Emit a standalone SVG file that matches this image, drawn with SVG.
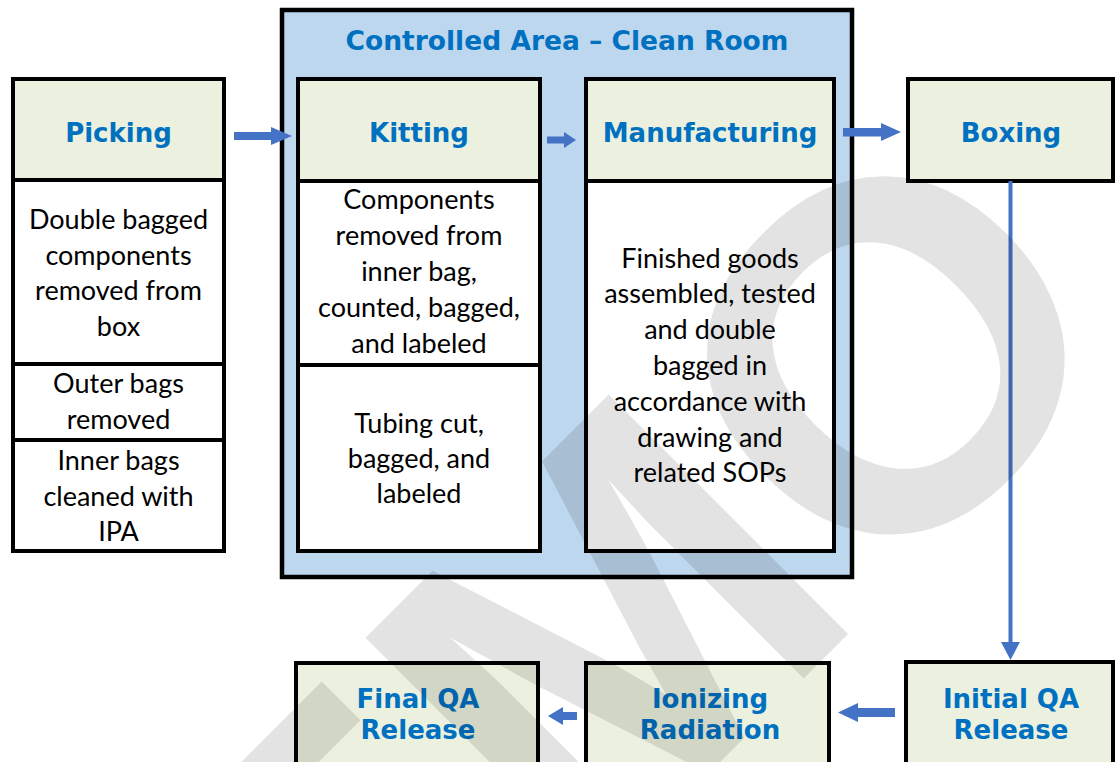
<svg xmlns="http://www.w3.org/2000/svg" width="1116" height="762" viewBox="0 0 1116 762">
  <style>
    .frame{stroke:#000;stroke-width:4}
    .hdr{fill:#ebf1de}
    .bdy{fill:#fff}
    .h{font-family:"DejaVu Sans",Verdana,sans-serif;font-weight:bold;font-size:26px;fill:#0070c0;text-anchor:middle}
    .t{font-family:Lato,"Liberation Sans",sans-serif;font-size:27px;fill:#000;text-anchor:middle}
    .arr{fill:#4472c4}
    .wm{font-family:"Liberation Sans",Arial,sans-serif;font-weight:bold;font-size:492px;fill:#000;fill-opacity:0.11;text-anchor:end}
  </style>

  <rect width="1116" height="762" fill="#fff"/>

  <!-- clean room enclosure -->
  <g id="controlled-area">
    <rect x="282" y="10" width="570" height="567" fill="#bdd7ee" stroke="#000" stroke-width="4.5"/>
    <text class="h" x="567" y="50" style="font-size:26.5px">Controlled Area – Clean Room</text>
  </g>

  <g id="picking">
    <rect class="frame hdr" x="13" y="79" width="211" height="101"/>
    <rect class="frame bdy" x="13" y="180" width="211" height="184"/>
    <rect class="frame bdy" x="13" y="364" width="211" height="76"/>
    <rect class="frame bdy" x="13" y="440" width="211" height="111"/>
    <text class="h" x="118.5" y="142">Picking</text>
    <text class="t" x="118.5" y="229">Double bagged</text>
    <text class="t" x="118.5" y="265">components</text>
    <text class="t" x="118.5" y="300">removed from</text>
    <text class="t" x="118.5" y="336">box</text>
    <text class="t" x="118.5" y="393">Outer bags</text>
    <text class="t" x="118.5" y="429">removed</text>
    <text class="t" x="118.5" y="470">Inner bags</text>
    <text class="t" x="118.5" y="506">cleaned with</text>
    <text class="t" x="118.5" y="541">IPA</text>
  </g>

  <g id="kitting">
    <rect class="frame hdr" x="298" y="79" width="242" height="102"/>
    <rect class="frame bdy" x="298" y="181" width="242" height="184"/>
    <rect class="frame bdy" x="298" y="365" width="242" height="186"/>
    <text class="h" x="419" y="142">Kitting</text>
    <text class="t" x="419" y="209">Components</text>
    <text class="t" x="419" y="245">removed from</text>
    <text class="t" x="419" y="281">inner bag,</text>
    <text class="t" x="419" y="317">counted, bagged,</text>
    <text class="t" x="419" y="353">and labeled</text>
    <text class="t" x="419" y="433">Tubing cut,</text>
    <text class="t" x="419" y="468">bagged, and</text>
    <text class="t" x="419" y="503">labeled</text>
  </g>

  <g id="manufacturing">
    <rect class="frame hdr" x="586" y="79" width="248" height="102"/>
    <rect class="frame bdy" x="586" y="181" width="248" height="370"/>
    <text class="h" x="710" y="142">Manufacturing</text>
    <text class="t" x="710" y="268">Finished goods</text>
    <text class="t" x="710" y="303">assembled, tested</text>
    <text class="t" x="710" y="339">and double</text>
    <text class="t" x="710" y="375">bagged in</text>
    <text class="t" x="710" y="411">accordance with</text>
    <text class="t" x="710" y="447">drawing and</text>
    <text class="t" x="710" y="482">related SOPs</text>
  </g>

  <g id="boxing">
    <rect class="frame hdr" x="908" y="79" width="205" height="102"/>
    <text class="h" x="1011" y="142">Boxing</text>
  </g>

  <g id="initial-qa">
    <rect class="frame hdr" x="906" y="662" width="207" height="120"/>
    <text class="h" x="1011" y="708">Initial QA</text>
    <text class="h" x="1011" y="739">Release</text>
  </g>

  <g id="ionizing">
    <rect class="frame hdr" x="586" y="663" width="243" height="120"/>
    <text class="h" x="710" y="708">Ionizing</text>
    <text class="h" x="710" y="739">Radiation</text>
  </g>

  <g id="final-qa">
    <rect class="frame hdr" x="296" y="663" width="242" height="120"/>
    <text class="h" x="418" y="708">Final QA</text>
    <text class="h" x="418" y="739">Release</text>
  </g>

  <g id="connectors">
    <polygon class="arr" points="234,132 271,132 271,127 292,136 271,145 271,140 234,140"/>
    <polygon class="arr" points="547,136.5 564,136.5 564,132 576,140 564,148 564,143.5 547,143.5"/>
    <polygon class="arr" points="843,128 881,128 881,123 901,132 881,141 881,136.5 843,136.5"/>
    <rect class="arr" x="1008.5" y="181" width="4" height="463"/>
    <polygon class="arr" points="1001,642 1020,642 1010.5,660"/>
    <polygon class="arr" points="895,708 858,708 858,703 838,712.5 858,722 858,717 895,717"/>
    <polygon class="arr" points="577,712 563,712 563,707 548,716 563,725 563,720 577,720"/>
  </g>

  <!-- translucent stamp across the sheet -->
  <g id="watermark">
    <text class="wm" transform="translate(1142,340) rotate(-45)">DEMO</text>
  </g>
</svg>
